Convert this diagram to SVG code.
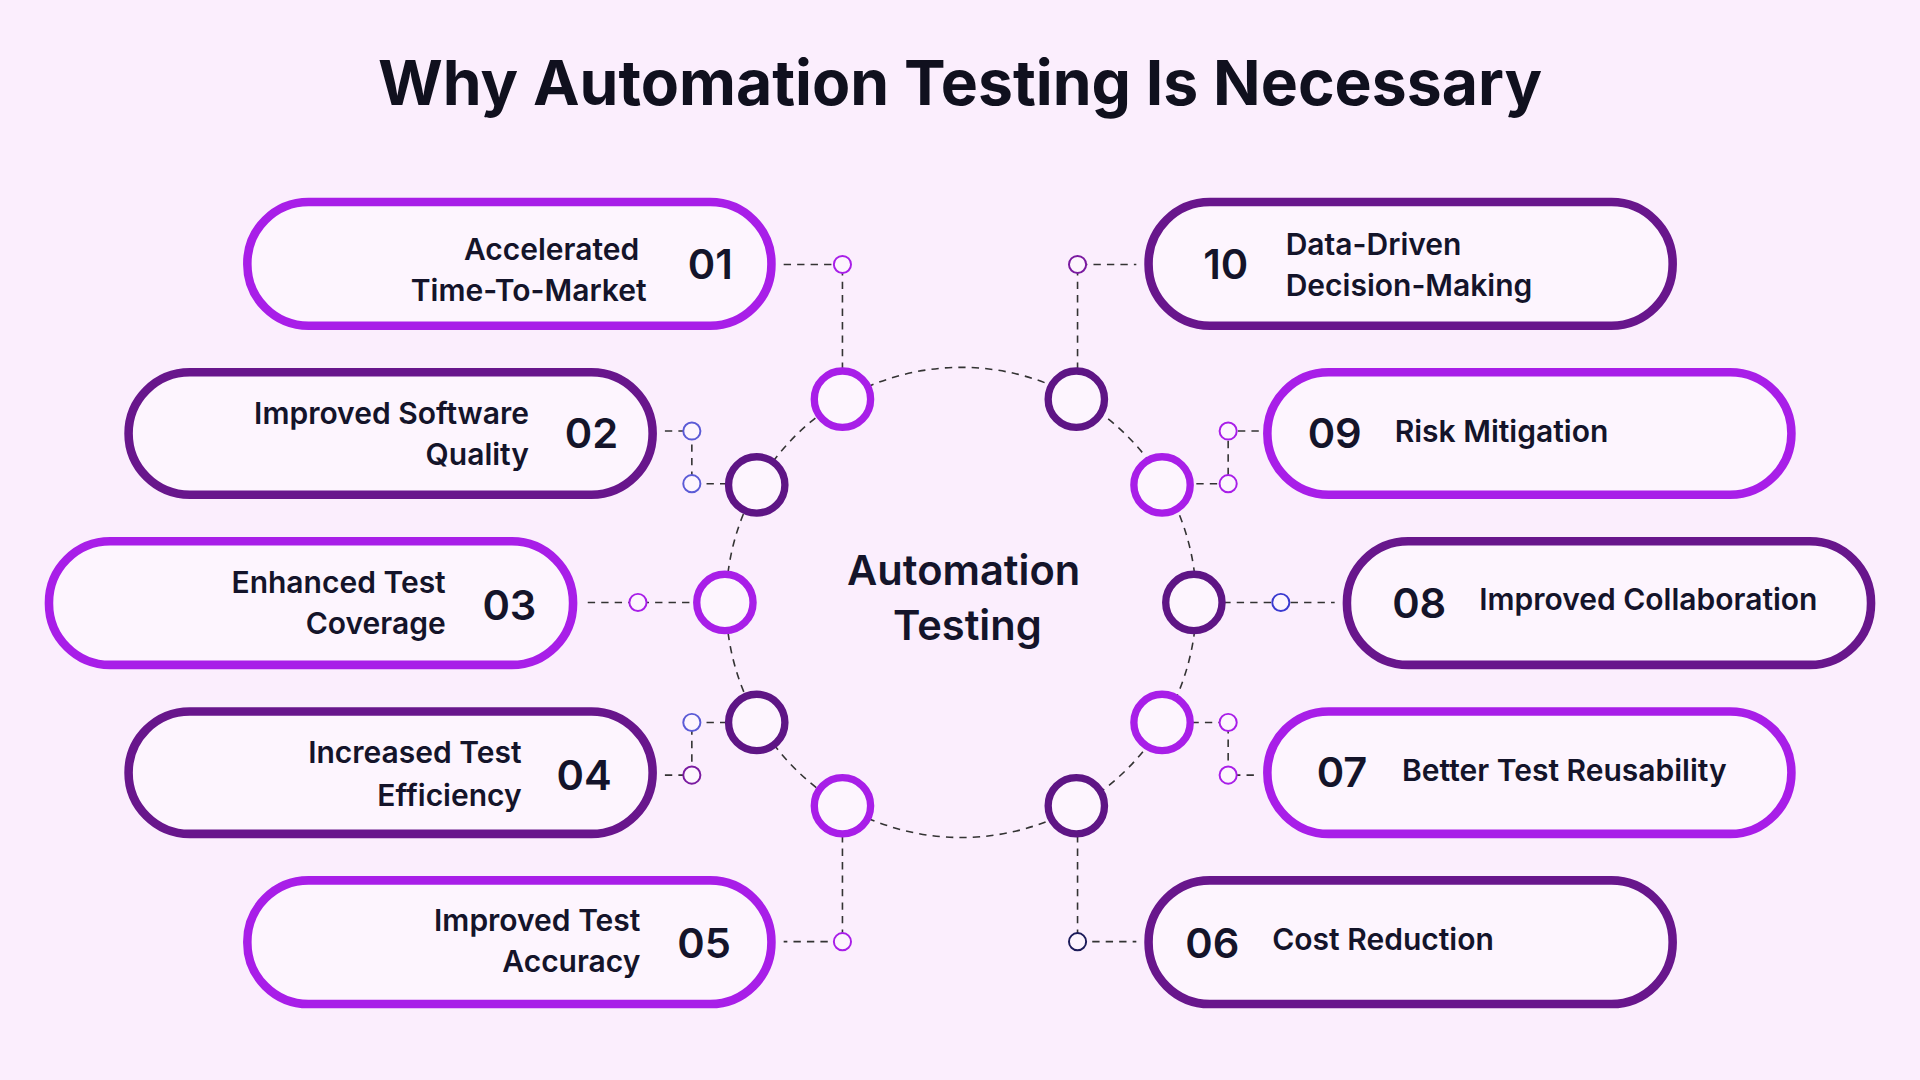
<svg xmlns="http://www.w3.org/2000/svg" width="1920" height="1080" viewBox="0 0 1920 1080">
<style>
.bg{fill:#fbeefd}
.pl{fill:#fdf5fe;stroke:#a81ee8;stroke-width:7}
.pd{fill:#fdf5fe;stroke:#68168c;stroke-width:7}
.rl{fill:#fdf5fe;stroke:#a81ee8;stroke-width:6}
.rd{fill:#fdf5fe;stroke:#5e1585;stroke-width:6}
.d{fill:none;stroke:#333;stroke-width:1.3;stroke-dasharray:6 5}
.s{fill:#fdf5fe;stroke-width:1.6}
.t{font-family:Inter,"Open Sans",sans-serif;font-weight:600;font-size:24.5px;fill:#14142a}
.n{font-family:Inter,"Open Sans",sans-serif;font-weight:600;font-size:34px;fill:#14142a;text-anchor:middle}
.e{text-anchor:end}
</style>
<rect class="bg" width="1920" height="1080"/>
<g transform="scale(1.22449)">
<text x="784" y="86" text-anchor="middle" font-family="Inter,'Open Sans',sans-serif" font-weight="700" font-size="51" fill="#10101e">Why Automation Testing Is Necessary</text>
<g id="connectors">
<circle class="d" cx="785" cy="492" r="192"/>
<path class="d" d="M688 302V216M640 216H688M543 352H565V395H594M480 492H568M594 590H565V633H543M688 682V769H640M880 302V216H928M1028 352H1003V395H973M999 492H1090M973 590H1003V633H1028M880 682V769H928"/>
<circle class="s" stroke="#a81ee8" cx="688" cy="216" r="7"/>
<circle class="s" stroke="#5b5bd6" cx="565" cy="352" r="7"/>
<circle class="s" stroke="#5b5bd6" cx="565" cy="395" r="7"/>
<circle class="s" stroke="#a81ee8" cx="521" cy="492" r="7"/>
<circle class="s" stroke="#5b5bd6" cx="565" cy="590" r="7"/>
<circle class="s" stroke="#7a1aa0" cx="565" cy="633" r="7"/>
<circle class="s" stroke="#a81ee8" cx="688" cy="769" r="7"/>
<circle class="s" stroke="#7a1aa0" cx="880" cy="216" r="7"/>
<circle class="s" stroke="#a81ee8" cx="1003" cy="352" r="7"/>
<circle class="s" stroke="#a81ee8" cx="1003" cy="395" r="7"/>
<circle class="s" stroke="#3a3ad0" cx="1046" cy="492" r="7"/>
<circle class="s" stroke="#a81ee8" cx="1003" cy="590" r="7"/>
<circle class="s" stroke="#a81ee8" cx="1003" cy="633" r="7"/>
<circle class="s" stroke="#1c1c5a" cx="880" cy="769" r="7"/>
</g>
<g id="ring">
<circle class="rl" cx="688" cy="326" r="23"/>
<circle class="rd" cx="618" cy="396" r="23"/>
<circle class="rl" cx="592" cy="492" r="23"/>
<circle class="rd" cx="618" cy="590" r="23"/>
<circle class="rl" cx="688" cy="658" r="23"/>
<circle class="rd" cx="879" cy="326" r="23"/>
<circle class="rl" cx="949" cy="396" r="23"/>
<circle class="rd" cx="975" cy="492" r="23"/>
<circle class="rl" cx="949" cy="590" r="23"/>
<circle class="rd" cx="879" cy="658" r="23"/>
</g>
<g id="center"><text x="787" y="478" class="n" font-size="30">Automation</text><text x="790" y="523" class="n" font-size="30">Testing</text></g>
<g id="n01"><rect class="pl" x="202" y="165" width="428" height="101" rx="50"/><text class="t e" x="522" y="212">Accelerated</text><text class="t e" x="528" y="246">Time-To-Market</text><text class="n" x="580" y="228">01</text></g>
<g id="n02"><rect class="pd" x="105" y="304" width="428" height="100" rx="50"/><text class="t e" x="432" y="346">Improved Software</text><text class="t e" x="432" y="380">Quality</text><text class="n" x="483" y="366">02</text></g>
<g id="n03"><rect class="pl" x="40" y="442" width="428" height="101" rx="50"/><text class="t e" x="364" y="484">Enhanced Test</text><text class="t e" x="364" y="518">Coverage</text><text class="n" x="416" y="506">03</text></g>
<g id="n04"><rect class="pd" x="105" y="581" width="428" height="100" rx="50"/><text class="t e" x="426" y="623">Increased Test</text><text class="t e" x="426" y="658">Efficiency</text><text class="n" x="477" y="645">04</text></g>
<g id="n05"><rect class="pl" x="202" y="719" width="428" height="101" rx="50"/><text class="t e" x="523" y="760">Improved Test</text><text class="t e" x="523" y="794">Accuracy</text><text class="n" x="575" y="782">05</text></g>
<g id="n10"><rect class="pd" x="938" y="165" width="428" height="101" rx="50"/><text class="n" x="1001" y="228">10</text><text class="t" x="1050" y="208">Data-Driven</text><text class="t" x="1050" y="242">Decision-Making</text></g>
<g id="n09"><rect class="pl" x="1035" y="304" width="428" height="100" rx="50"/><text class="n" x="1090" y="366">09</text><text class="t" x="1139" y="361">Risk Mitigation</text></g>
<g id="n08"><rect class="pd" x="1100" y="442" width="428" height="101" rx="50"/><text class="n" x="1159" y="505">08</text><text class="t" x="1208" y="498">Improved Collaboration</text></g>
<g id="n07"><rect class="pl" x="1035" y="581" width="428" height="100" rx="50"/><text class="n" x="1096" y="643">07</text><text class="t" x="1145" y="638">Better Test Reusability</text></g>
<g id="n06"><rect class="pd" x="938" y="719" width="428" height="101" rx="50"/><text class="n" x="990" y="782">06</text><text class="t" x="1039" y="776">Cost Reduction</text></g>
</g>
</svg>
